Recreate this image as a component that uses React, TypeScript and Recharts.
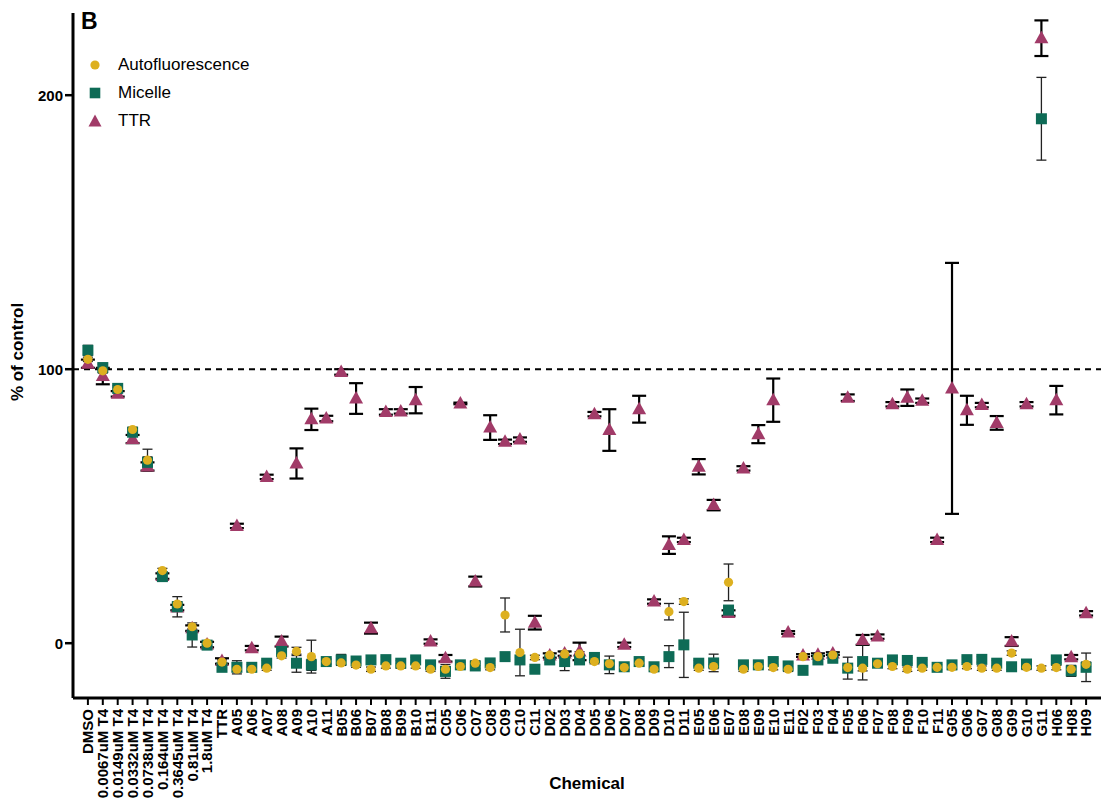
import React from "react";
import {
  ScatterChart,
  Scatter,
  XAxis,
  YAxis,
  ErrorBar,
  ReferenceLine,
} from "recharts";

// chemicals / concentrations along the x axis
const chemicals = [
  "DMSO", "0.0067uM T4", "0.0149uM T4", "0.0332uM T4", "0.0738uM T4", "0.164uM T4",
  "0.3645uM T4", "0.81uM T4", "1.8uM T4", "TTR",
  "A05", "A06", "A07", "A08", "A09", "A10", "A11",
  "B05", "B06", "B07", "B08", "B09", "B10", "B11",
  "C05", "C06", "C07", "C08", "C09", "C10", "C11",
  "D02", "D03", "D04", "D05", "D06", "D07", "D08", "D09", "D10", "D11",
  "E05", "E06", "E07", "E08", "E09", "E10", "E11",
  "F02", "F03", "F04", "F05", "F06", "F07", "F08", "F09", "F10", "F11",
  "G05", "G06", "G07", "G08", "G09", "G10", "G11",
  "H06", "H08", "H09",
];

const ttrValues = [
  102, 97.5, 91, 74.5, 64.5, 24.5, 13, 5.5, -0.5, -6.5,
  42.8, -1.8, 60.7, 0.6, 65.6, 81.7, 82,
  99, 89.3, 5.5, 84.4, 84.6, 88.7, 0.6,
  -5.5, 87.5, 22.5, 78.7, 73.5, 74.3, 7.5,
  -4.5, -3.8, -3, 83.6, 77.8, -0.6, 85.4, 15.2, 35.8, 37.7,
  64.4, 50.4, 11, 63.8, 76.3, 88.7, 3.9,
  -4.5, -4.2, -3.8, 89.6, 1.2, 2.4, 87.2, 89.6, 88.5, 37.7,
  93, 85, 86.9, 80.4, 0.6, 87.2, 220.8,
  88.7, -5.1, 10.9,
];
const ttrErr = [
  1.5, 3, 1, 1.5, 1.5, 1, 1, 1, 1, 1,
  0.8, 0.8, 0.8, 1.8, 5.5, 3.9, 1,
  1, 5.6, 2, 1, 0.8, 4.8, 0.8,
  1.2, 0.3, 1.8, 4.5, 0.8, 0.8, 2.5,
  0.8, 0.8, 3.2, 0.8, 7.6, 0.8, 4.9, 0.8, 3.2, 0.8,
  2.8, 1.9, 1, 0.8, 3.3, 7.9, 0.5,
  0.5, 0.5, 0.5, 1.2, 1.8, 0.8, 0.8, 3, 0.8, 0.8,
  45.8, 5.3, 0.8, 2.5, 1.6, 0.8, 6.5,
  5.2, 0.8, 0.8,
];

const micelleValues = [
  106.9, 100.6, 93, 77, 66, 24.3, 13.3, 3, -0.7, -8.8,
  -8.8, -8.8, -7.3, -3, -7.3, -7.9, -6.7,
  -6.1, -6.5, -6.1, -6, -7.3, -6.1, -7.9,
  -10.3, -7.9, -8.3, -7.2, -4.9, -6.1, -9.5,
  -6.1, -6.7, -6.1, -5.2, -7.9, -8.6, -6.7, -8.6, -4.9, -0.6,
  -7.3, -7.2, 12.1, -7.9, -7.9, -6.7, -8.3,
  -9.9, -6.1, -5.5, -9.1, -6.7, -7.3, -6.1, -6.3, -7, -8.8,
  -7.9, -6, -5.9, -7.3, -8.6, -7.6, 191.4,
  -6.1, -10.1, -8.8,
];
const micelleErr = [
  1.8, 1.2, 1, 1.2, 2, 1, 3.7, 4.4, 1, 1,
  2.4, 1, 1, 1, 3.3, 2, 1,
  2, 1, 1, 1, 1, 1, 1,
  2.5, 1, 1, 1, 1, 1, 1,
  1, 3.3, 1, 1, 3.2, 1, 1, 1, 4, 11.9,
  1, 3.2, 1, 1, 1, 1, 1,
  1, 1, 1, 4, 6.7, 1, 1, 1, 1, 1,
  1, 1, 1, 1, 1, 1, 15.1,
  1, 2, 5.2,
];

const autoValues = [
  103.6, 99.4, 92.6, 78, 66.8, 26.5, 14.3, 6, 0, -6.9,
  -9.5, -9.5, -9.1, -4.6, -3, -4.9, -6.7,
  -7.2, -8, -9.5, -8.3, -8.3, -8.3, -9.5,
  -9.5, -8.5, -7.3, -8.9, 10.3, -3.4, -5.2,
  -4.3, -3.9, -3.9, -6.7, -7.5, -8.9, -7.3, -9.5, 11.5, 15.2,
  -9.1, -8.5, 22.2, -9.5, -8.5, -8.9, -9.5,
  -4.9, -4.9, -4.3, -8.9, -9.1, -7.5, -8.5, -9.5, -9.1, -8.8,
  -8.8, -8.5, -9.1, -9.1, -3.6, -8.8, -9.1,
  -8.9, -9.5, -7.7,
];
const autoErr = [
  0.8, 0.8, 0.8, 0.8, 4, 0.8, 0.8, 0.8, 0.8, 0.8,
  0.8, 0.8, 0.8, 0.8, 1.5, 6, 0.8,
  0.8, 0.8, 0.8, 0.8, 0.8, 0.8, 0.8,
  0.8, 0.8, 0.8, 0.8, 6.2, 8.5, 0.8,
  0.8, 0.8, 0.8, 0.8, 0.8, 0.8, 0.8, 0.8, 3, 1,
  0.8, 0.8, 6.7, 0.8, 0.8, 0.8, 0.8,
  0.8, 0.8, 0.8, 0.8, 1, 0.8, 0.8, 0.8, 0.8, 0.8,
  0.8, 0.8, 0.8, 0.8, 0.8, 0.8, 0.8,
  0.8, 0.8, 0.8,
];

const yTicks = [0, 100, 200];

const COLORS = { auto: "#DDB020", micelle: "#0E6B56", ttr: "#A13B68" };
const FONT = "'Liberation Sans', Arial, sans-serif";

const toRows = (vals: number[], errs: number[]) =>
  vals.map((v, i) => ({ x: i, y: v, err: errs[i] }));

const ttrRows = toRows(ttrValues, ttrErr);
const micelleRows = toRows(micelleValues, micelleErr);
const autoRows = toRows(autoValues, autoErr);

const Circle = (p: any) => <circle cx={p.cx} cy={p.cy} r={4.6} fill={COLORS.auto} />;
const Square = (p: any) => (
  <rect x={p.cx - 5.5} y={p.cy - 5.5} width={11} height={11} fill={COLORS.micelle} />
);
const Triangle = (p: any) => (
  <path
    d={`M${p.cx},${p.cy - 7.5} L${p.cx + 7},${p.cy + 5} L${p.cx - 7},${p.cy + 5} Z`}
    fill={COLORS.ttr}
  />
);

const XTick = (props: any) => {
  const { x, y, payload } = props;
  return (
    <text
      x={x}
      y={y}
      transform={`rotate(-90 ${x} ${y})`}
      textAnchor="end"
      dy="0.36em"
      fontFamily={FONT}
      fontWeight="bold"
      fontSize={15}
      fill="#000"
    >
      {chemicals[payload.value]}
    </text>
  );
};

const legendItems = [
  { name: "Autofluorescence", key: "auto" },
  { name: "Micelle", key: "micelle" },
  { name: "TTR", key: "ttr" },
];

const LegendMark = ({ k }: { k: string }) => (
  <svg width={16} height={16} style={{ display: "block" }}>
    {k === "auto" && <circle cx={8} cy={8} r={4.6} fill={COLORS.auto} />}
    {k === "micelle" && <rect x={2.7} y={2.7} width={10.6} height={10.6} fill={COLORS.micelle} />}
    {k === "ttr" && <path d="M8,1.5 L14.5,13.5 L1.5,13.5 Z" fill={COLORS.ttr} />}
  </svg>
);

export default function App() {
  return (
    <div style={{ position: "relative", width: 1109, height: 805, background: "#fff", fontFamily: FONT }}>
      <style>{`body{margin:0}`}</style>
      <ScatterChart width={1109} height={805} margin={{ top: 13, right: 8, bottom: 0, left: 0 }}>
        <XAxis
          type="number"
          dataKey="x"
          domain={[-1, 68]}
          ticks={chemicals.map((_, i) => i)}
          interval={0}
          height={107}
          tick={<XTick />}
          tickSize={7}
          tickMargin={4}
          axisLine={{ stroke: "#000", strokeWidth: 3 }}
          tickLine={{ stroke: "#000", strokeWidth: 2 }}
          allowDataOverflow
        />
        <YAxis
          type="number"
          dataKey="y"
          domain={[-20, 230]}
          ticks={yTicks}
          width={73}
          tickSize={8}
          tickMargin={2}
          axisLine={{ stroke: "#000", strokeWidth: 3 }}
          tickLine={{ stroke: "#000", strokeWidth: 2.5 }}
          tick={{ fill: "#000", fontSize: 15, fontWeight: "bold", fontFamily: FONT }}
          allowDataOverflow
        />
        <ReferenceLine y={100} stroke="#000" strokeWidth={2} strokeDasharray="6 5" />
        <Scatter name="TTR" data={ttrRows} shape={Triangle} isAnimationActive={false}>
          <ErrorBar dataKey="err" direction="y" width={7} stroke="#000" strokeWidth={2.2} />
        </Scatter>
        <Scatter name="Micelle" data={micelleRows} shape={Square} isAnimationActive={false}>
          <ErrorBar dataKey="err" direction="y" width={5} stroke="#222" strokeWidth={1.3} />
        </Scatter>
        <Scatter name="Autofluorescence" data={autoRows} shape={Circle} isAnimationActive={false}>
          <ErrorBar dataKey="err" direction="y" width={5} stroke="#222" strokeWidth={1.3} />
        </Scatter>
      </ScatterChart>

      <div style={{ position: "absolute", left: 81, top: 10, fontSize: 23, fontWeight: "bold", lineHeight: "23px" }}>B</div>

      <div style={{ position: "absolute", left: 87, top: 51 }}>
        {legendItems.map((it) => (
          <div key={it.key} style={{ display: "flex", alignItems: "center", height: 28 }}>
            <LegendMark k={it.key} />
            <span style={{ marginLeft: 15, fontSize: 17, color: "#000" }}>{it.name}</span>
          </div>
        ))}
      </div>

      <div
        style={{
          position: "absolute",
          left: 18,
          top: 352,
          transform: "translate(-50%, -50%) rotate(-90deg)",
          fontSize: 17,
          fontWeight: "bold",
          whiteSpace: "nowrap",
        }}
      >
        % of control
      </div>
      <div
        style={{
          position: "absolute",
          left: 587,
          top: 784,
          transform: "translate(-50%, -50%)",
          fontSize: 17,
          fontWeight: "bold",
        }}
      >
        Chemical
      </div>
    </div>
  );
}
